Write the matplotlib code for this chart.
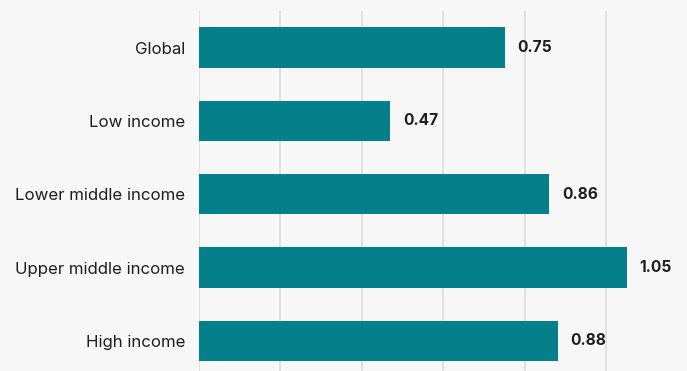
import matplotlib
matplotlib.use("Agg")
import matplotlib.pyplot as plt

categories = ["Global", "Low income", "Lower middle income", "Upper middle income", "High income"]
values = [0.75, 0.47, 0.86, 1.05, 0.88]
gridlines = [0.0, 0.2, 0.4, 0.6, 0.8, 1.0]

bar_color = "#05808A"
bg = "#F7F7F7"
text_color = "#1E1E1E"

plt.rcParams["font.family"] = ["Inter", "DejaVu Sans"]

W, H = 687, 371
fig = plt.figure(figsize=(W / 100, H / 100), dpi=100, facecolor=bg)
ax_left, ax_top = 199, 11
row_h = 73.3
ax_h = row_h * len(categories)
ax_w = W - ax_left + 1
ax = fig.add_axes([ax_left / W, (H - ax_top - ax_h) / H, ax_w / W, ax_h / H])
ax.set_facecolor(bg)

y = list(range(len(categories)))
ax.barh(y, values, height=0.55, color=bar_color, zorder=2)
ax.set_xlim(0, ax_w / 407.4)
ax.set_ylim(len(categories) - 0.5, -0.5)

for g in gridlines:
    ax.axvline(g, color="#DADADA", lw=1.1, zorder=1)

for yi, v in zip(y, values):
    ax.text(v + 0.031, yi, f"{v:.2f}", va="center", ha="left",
            fontsize=11.2, fontweight="bold", color=text_color)

ax.set_yticks(y)
ax.set_yticklabels(categories, fontsize=12.1, color=text_color)
ax.tick_params(axis="y", length=0, pad=10)
ax.set_xticks([])
for s in ax.spines.values():
    s.set_visible(False)

fig.savefig("out.png", dpi=100, facecolor=bg)
